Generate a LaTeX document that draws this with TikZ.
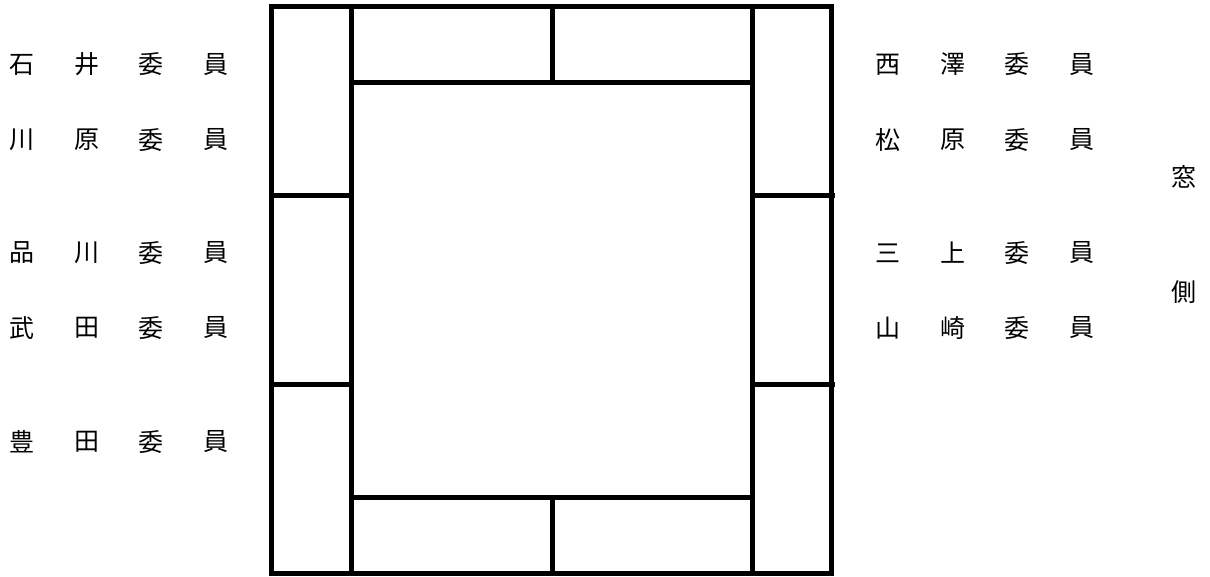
\documentclass[tikz,border=0pt]{standalone}
\usepackage{fontspec}
\setmainfont{Noto Sans CJK JP}
\begin{document}
\begin{tikzpicture}[x=1pt,y=-1pt,line width=5pt,font=\fontsize{25}{30}\selectfont,
  seat/.style={inner sep=0pt,anchor=center}]
  \useasboundingbox (0,0) rectangle (1210,576);
  \draw (271,6) rectangle (831.5,573);
  \draw (351.5,6)--(351.5,573);
  \draw (752,6)--(752,573);
  \draw (351.5,82.5)--(752,82.5);
  \draw (351.5,497)--(752,497);
  \draw (552,6)--(552,82.5);
  \draw (552,497)--(552,573);
  \draw (271,195)--(351.5,195);
  \draw (271,384)--(351.5,384);
  \draw (752,195)--(835,195);
  \draw (752,384)--(835,384);
  \foreach \names/\y [count=\r] in {{石,井,委,員}/64.5,{川,原,委,員}/140,{品,川,委,員}/253,{武,田,委,員}/328,{豊,田,委,員}/442}
    \foreach \c [count=\i] in \names
      \node[seat] (L-\r-\i) at (22+64.7*\i-64.7,\y) {\c};
  \foreach \names/\y [count=\r] in {{西,澤,委,員}/64.5,{松,原,委,員}/140,{三,上,委,員}/253,{山,崎,委,員}/328}
    \foreach \c [count=\i] in \names
      \node[seat] (R-\r-\i) at (888+64.7*\i-64.7,\y) {\c};
  \node[seat] (mado) at (1184,177) {窓};
  \node[seat] (gawa) at (1184,292) {側};
\end{tikzpicture}
\end{document}
